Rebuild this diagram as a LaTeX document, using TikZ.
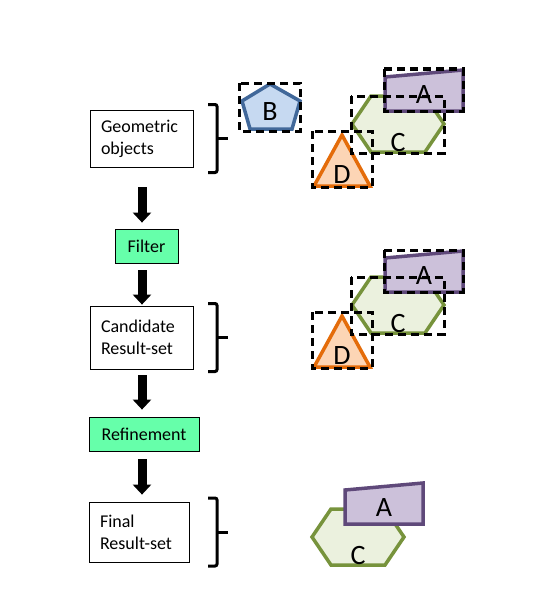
\documentclass[tikz,border=0pt]{standalone}
\usepackage{fontspec}
\setmainfont{Carlito}
\usetikzlibrary{arrows.meta, calc}

\definecolor{mint}{HTML}{66FFAA}
\definecolor{aline}{HTML}{5F497A}
\definecolor{afill}{HTML}{CCC1DA}
\definecolor{bline}{HTML}{41689A}
\definecolor{bfill}{HTML}{C6D9F1}
\definecolor{cline}{HTML}{77933C}
\definecolor{cfill}{HTML}{EBF1DE}
\definecolor{dline}{HTML}{E46C0A}
\definecolor{dfill}{HTML}{FCD5B5}

\tikzset{
	procbox/.style={draw, line width=0.8pt, inner xsep=11pt, align=left, font=\fontsize{18}{22}\selectfont},
	stepbox/.style={draw, fill=mint, line width=0.8pt, align=center, font=\fontsize{18}{22}\selectfont},
	bigarrow/.style={line width=9pt, -{Triangle[width=18pt, length=10pt]}},
	brk/.style={line width=3pt, rounded corners=2pt},
	mbr/.style={dash pattern=on 8pt off 5pt, line width=3pt},
	lbl/.style={font=\fontsize{28}{30}\selectfont, inner sep=0pt},
	shp/.style={line width=3.5pt}
}

% the objects, at the places of the first set
\newcommand{\polyA}[1]{%
	\draw[shp, draw=aline, fill=afill] (385,77) -- (463,70) -- (463,111) -- (385,111) -- cycle;
	\node[lbl] (lblA#1) at (424,95) {A};}
\newcommand{\polyB}[1]{%
	\draw[shp, draw=bline, fill=bfill] (270,84) -- (300,101) -- (292,129) -- (250,129) -- (242,101) -- cycle;
	\node[lbl] (lblB#1) at (270,112) {B};}
\newcommand{\polyC}[1]{%
	\draw[shp, draw=cline, fill=cfill] (352,124) -- (371,96) -- (425,96) -- (444,124) -- (425,152) -- (371,152) -- cycle;
	\node[lbl] (lblC#1) at (398,143) {C};}
\newcommand{\polyD}[1]{%
	\draw[shp, draw=dline, fill=dfill] (342,135) -- (370,186) -- (314,186) -- cycle;
	\node[lbl] (lblD#1) at (342,175) {D};}
\newcommand{\sidebrace}[1]{%
	\draw[brk] ($(bx |- #1.center)+(-9,-34)$) -- ++(9,0) -- ++(0,68) -- ++(-9,0);
	\draw[brk] (bx |- #1.center) -- ++(11,0);}

\begin{document}
\begin{tikzpicture}[x=1pt, y=-1pt]
	\useasboundingbox (0,0) rectangle (545,602);
	\coordinate (ax) at (142,0);
	\coordinate (bx) at (217,0);

	% Steps:
	\node[procbox, text width=81pt, minimum height=57pt] (geo) at (141.5,138.5) {Geometric\\objects};
	\node[stepbox, minimum width=63pt, minimum height=34pt] (filter) at (146.5,246) {Filter};
	\node[procbox, text width=81pt, minimum height=63pt] (cand) at (141.5,337.5) {Candidate\\Result-set};
	\node[stepbox, minimum width=110pt, minimum height=34pt] (refine) at (144,434) {Refinement};
	\node[procbox, text width=78pt, minimum height=60pt] (final) at (139,532) {Final\\Result-set};

	\draw[bigarrow, shorten <=20pt, shorten >=6pt] (ax |- geo.south) -- (ax |- filter.north);
	\draw[bigarrow, shorten <=7pt, shorten >=1pt] (ax |- filter.south) -- (ax |- cand.north);
	\draw[bigarrow, shorten <=6pt, shorten >=7pt] (ax |- cand.south) -- (ax |- refine.north);
	\draw[bigarrow, shorten <=8pt, shorten >=7pt] (ax |- refine.south) -- (ax |- final.north);

	\sidebrace{geo}
	\sidebrace{cand}
	\sidebrace{final}

	% All objects with their boxes:
	\polyC{1} \polyA{1} \polyB{1} \polyD{1}
	\draw[mbr] (239,83) rectangle (300,131);
	\draw[mbr] (312,131) rectangle (372,187);
	\draw[mbr] (351,96) rectangle (444,153);
	\draw[mbr] (384,69) rectangle (463,111);

	% Candidates:
	\begin{scope}[shift={(0,181)}]
		\polyC{2} \polyA{2} \polyD{2}
		\draw[mbr] (312,131) rectangle (372,187);
		\draw[mbr] (351,96) rectangle (444,153);
		\draw[mbr] (384,69) rectangle (463,111);
	\end{scope}

	% Final result:
	\begin{scope}[shift={(-40,413)}]
		\polyC{3} \polyA{3}
	\end{scope}
\end{tikzpicture}
\end{document}
